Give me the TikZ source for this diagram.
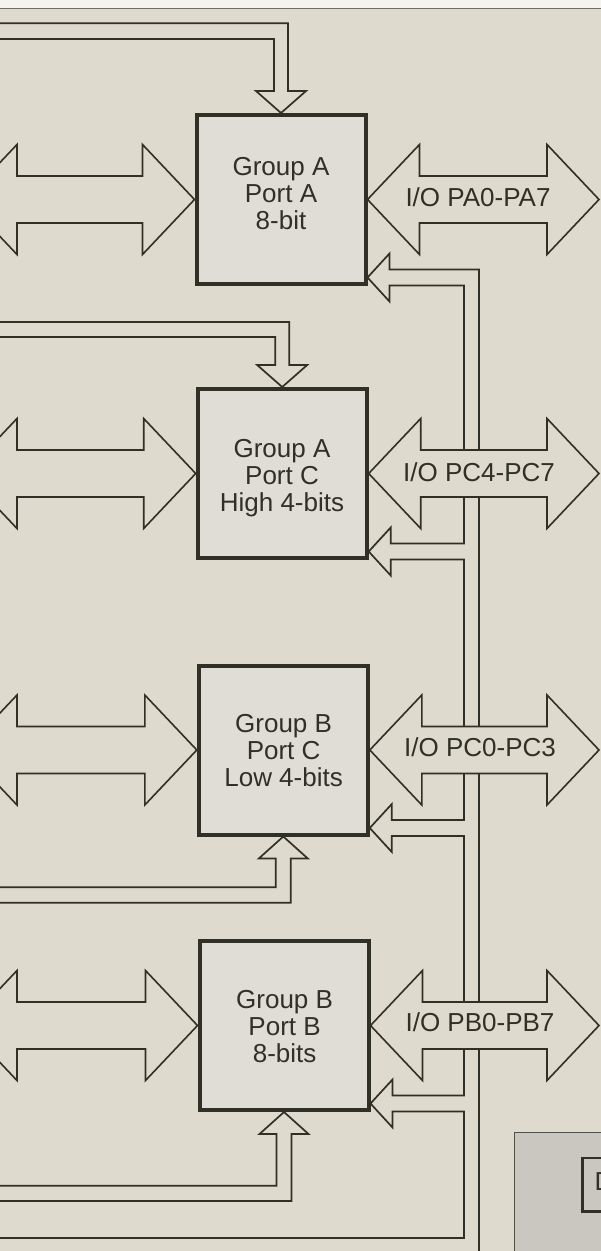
\documentclass[tikz,border=0pt]{standalone}
\usepackage{fontspec}
\setmainfont{Liberation Sans}
\usetikzlibrary{calc}
\definecolor{bg}{RGB}{222,218,205}
\definecolor{boxfill}{RGB}{223,221,213}
\definecolor{ink}{RGB}{48,48,38}
\definecolor{panel}{RGB}{202,199,192}
\definecolor{topwhite}{RGB}{245,243,237}
\newcommand{\portarrow}[2]{%
  \draw[barrow] let \p1=(#1), \p2=(#2) in
    (\x1,\y1) -- (\x1+52pt,\y1+55pt) -- (\x1+52pt,\y1+23.5pt) -- (\x2-52pt,\y1+23.5pt)
    -- (\x2-52pt,\y1+55pt) -- (\x2,\y1) -- (\x2-52pt,\y1-55pt) -- (\x2-52pt,\y1-23.5pt)
    -- (\x1+52pt,\y1-23.5pt) -- (\x1+52pt,\y1-55pt) -- cycle;}
\begin{document}
\begin{tikzpicture}[x=1pt,y=-1pt,
  portbox/.style={draw=ink,line width=4pt,fill=boxfill,minimum width=169pt,minimum height=169pt,inner sep=0pt},
  barrow/.style={draw=ink,line width=1.6pt,fill=bg,line join=miter},
  busline/.style={draw=ink,line width=1.7pt,line join=miter},
  lbl/.style={font=\fontsize{26}{27}\selectfont,text=ink,align=center,inner sep=0pt},
]
\useasboundingbox (0,0) rectangle (601,1251);
\clip (0,0) rectangle (601,1251);
\fill[bg] (0,0) rectangle (601,1251);
\fill[topwhite] (0,0) rectangle (601,8);
\draw[ink!70,line width=1pt] (0,8.5) -- (601,8.5);

% port boxes
\node[portbox] (A)  at (281,199.5) {};
\node[portbox] (CH) at (282.2,473.5) {};
\node[portbox] (CL) at (283.3,750) {};
\node[portbox] (B)  at (284,1025.5) {};

% helper coordinates
\coordinate (busI) at (464,0);
\coordinate (busO) at (479,0);
\coordinate (rt) at (599,0);
\coordinate (lt) at (-35,0);
\coordinate (offB) at (0,1262);
\coordinate (botL) at (-5,1238);

\foreach \X in {A,CH,CL,B}{
  \coordinate (tip\X) at ($(\X.south east)+(0,-8.5)$);
  \coordinate (up\X) at ($(\X.south east)+(22,-16.5)$);
  \coordinate (hu\X) at ($(\X.south east)+(22,-32.5)$);
  \coordinate (hl\X) at ($(\X.south east)+(22,15.5)$);
  \coordinate (lo\X) at ($(\X.south east)+(22,-0.5)$);
}

% internal bus with the small arrows into each port
\draw[busline] (busO |- offB) -- (busO |- upA) -- (upA) -- (huA) -- (tipA) -- (hlA) -- (loA)
  -- (busI |- loA) -- (busI |- upCH) -- (upCH) -- (huCH) -- (tipCH) -- (hlCH) -- (loCH)
  -- (busI |- loCH) -- (busI |- upCL) -- (upCL) -- (huCL) -- (tipCL) -- (hlCL) -- (loCL)
  -- (busI |- loCL) -- (busI |- upB) -- (upB) -- (huB) -- (tipB) -- (hlB) -- (loB)
  -- (busI |- loB) -- (busI |- botL) -- (botL);

% control arrows from above (A, CH)
\foreach \X/\yo/\yi in {A/23.3/39, CH/322/337}{
  \coordinate (sr\X) at ($(\X.north)+(7,-22)$);
  \coordinate (sl\X) at ($(\X.north)+(-7,-22)$);
  \coordinate (hr\X) at ($(\X.north)+(25,-22)$);
  \coordinate (hL\X) at ($(\X.north)+(-25,-22)$);
  \draw[busline] (-5,\yo) -- (sr\X |- 0,\yo) -- (sr\X) -- (hr\X) -- (\X.north) -- (hL\X) -- (sl\X) -- (sl\X |- 0,\yi) -- (-5,\yi);
}
% control arrows from below (CL, B)
\foreach \X/\yi/\yo in {CL/887.3/902.7, B/1185.7/1201}{
  \coordinate (sr\X) at ($(\X.south)+(7.5,22)$);
  \coordinate (sl\X) at ($(\X.south)+(-7.5,22)$);
  \coordinate (hr\X) at ($(\X.south)+(24.5,22)$);
  \coordinate (hL\X) at ($(\X.south)+(-24.5,22)$);
  \draw[busline] (-5,\yi) -- (sl\X |- 0,\yi) -- (sl\X) -- (hL\X) -- (\X.south) -- (hr\X) -- (sr\X) -- (sr\X |- 0,\yo) -- (-5,\yo);
}

% data bus arrows on the left and I/O arrows on the right
\foreach \X in {A,CH,CL,B}{
  \portarrow{lt |- \X.west}{\X.west}
  \portarrow{\X.east}{rt |- \X.east}
}

% labels
\node[lbl] (tA)  at (281,193.5) {Group A\\Port A\\8-bit};
\node[lbl] (tCH) at (282,478.3) {Group A\\Port C\\High 4-bits};
\node[lbl] (tCL) at (283.6,750.5) {Group B\\Port C\\Low 4-bits};
\node[lbl] (tB)  at (284.6,1026.5) {Group B\\Port B\\8-bits};
\node[lbl,anchor=base] (ioA)  at (478,206.7) {I/O PA0-PA7};
\node[lbl,anchor=base] (ioCH) at (479,481.7) {I/O PC4-PC7};
\node[lbl,anchor=base] (ioCL) at (480,756.7) {I/O PC0-PC3};
\node[lbl,anchor=base] (ioB)  at (480,1031.7) {I/O PB0-PB7};

% partial panel at lower right
\node[draw=ink!85,line width=1.2pt,fill=panel,minimum width=120pt,minimum height=140pt,inner sep=0pt,anchor=north west] (ctl) at (514,1132) {};
\node[draw=ink,line width=2.6pt,fill=panel,minimum width=60pt,minimum height=53.5pt,inner sep=0pt,anchor=north west] (dbuf) at (581,1156.5) {};
\node[lbl,anchor=base west] (dlab) at (594.5,1190) {D};
\end{tikzpicture}
\end{document}
